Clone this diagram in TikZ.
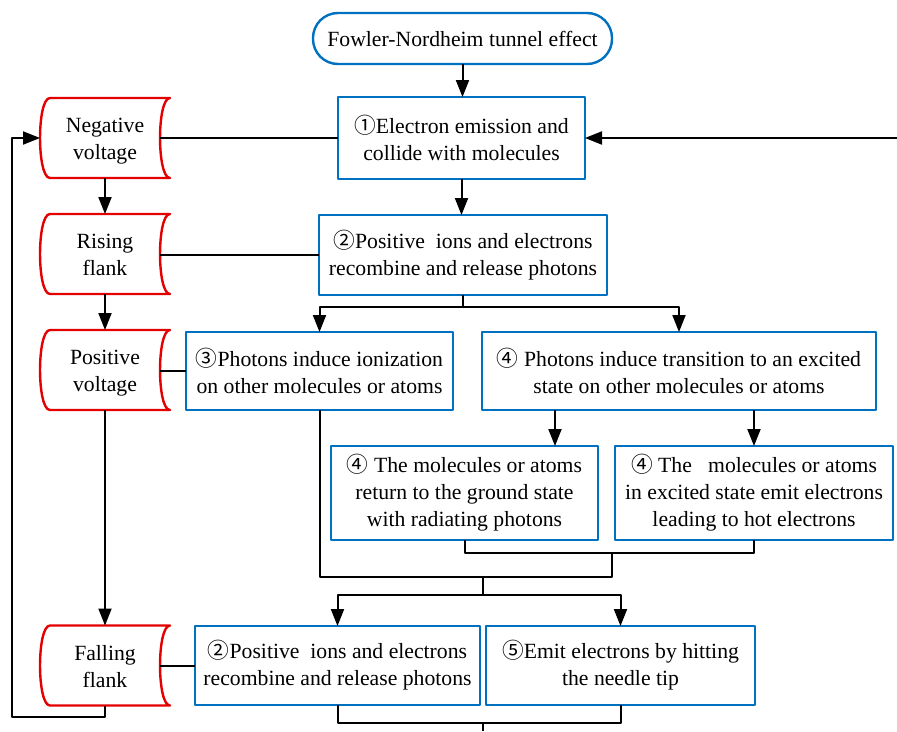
\documentclass[tikz,border=0pt]{standalone}
\usepackage{fontspec}
\setmainfont{Liberation Serif}
\newfontfamily\numfont{Noto Sans CJK SC}
\newcommand{\cnum}[1]{{\numfont #1}}
\usetikzlibrary{arrows.meta}
\definecolor{boxblue}{RGB}{0,112,192}
\definecolor{voltred}{RGB}{228,0,0}
\newcommand{\voltshape}[1]{\draw[voltred,line width=2.4pt] ([xshift=10pt]#1.north west) .. controls ([xshift=-3.3pt]#1.north west) and ([xshift=-3.3pt]#1.south west) .. ([xshift=10pt]#1.south west) -- (#1.south east) .. controls ([xshift=-13.3pt]#1.south east) and ([xshift=-13.3pt]#1.north east) .. (#1.north east) -- cycle;}

\begin{document}
\begin{tikzpicture}[x=1pt,y=-1pt,line join=round,>={Triangle[length=17pt,width=13pt]},line width=2pt]
	\tikzset{every node/.style={font=\fontsize{21.7}{27}\selectfont,align=center,inner sep=0pt,outer sep=0pt}}
	\tikzset{proc/.style={draw=boxblue,line width=2.4pt,minimum height=80pt}}
	\tikzset{volt/.style={minimum width=130pt,minimum height=80pt,text height=43pt,text depth=0pt}}
	\useasboundingbox (0,0) rectangle (897,731);
	\node[proc,rounded corners=25pt,minimum width=299pt,minimum height=51pt] (fn) at (462.5,38.5) {Fowler-Nordheim tunnel effect};
	\node[proc,minimum width=247pt,minimum height=82pt] (b1) at (461.5,138) {\cnum{①}Electron emission and\\collide with molecules};
	\node[proc,minimum width=288pt] (b2) at (463,255) {\cnum{②}Positive\ \ ions and electrons\\recombine and release photons};
	\node[proc,minimum width=267pt,minimum height=78pt] (b3) at (319.5,371) {\cnum{③}Photons induce ionization\\on other molecules or atoms};
	\node[proc,minimum width=394pt,minimum height=78pt] (b4) at (679,371) {\cnum{④} Photons induce transition to an excited\\state on other molecules or atoms};
	\node[proc,minimum width=267pt,minimum height=94pt] (b5) at (464.5,493) {\cnum{④} The molecules or atoms\\return to the ground state\\with radiating photons};
	\node[proc,minimum width=278pt,minimum height=94pt] (b6) at (754,493) {\cnum{④} The\ \ \ molecules or atoms\\in excited state emit electrons\\leading to hot electrons};
	\node[proc,minimum width=285pt,minimum height=79pt] (b7) at (337.5,665.5) {\cnum{②}Positive\ \ ions and electrons\\recombine and release photons};
	\node[proc,minimum width=269pt,minimum height=79pt] (b8) at (620.5,665.5) {\cnum{⑤}Emit electrons by hitting\\the needle tip};
	\node[volt] (neg) at (105,138) {Negative\\voltage};
	\node[volt] (rise) at (105,254) {Rising\\flank};
	\node[volt] (pos) at (105,370) {Positive\\voltage};
	\node[volt] (fall) at (105,665.5) {Falling\\flank};
	\foreach \v in {neg,rise,pos,fall} \voltshape{\v};
	\coordinate (rin) at (897,138);
	\coordinate (j1) at (612,553);
	\coordinate (j2) at (612,577);
	\coordinate (s2) at (483,577);
	\coordinate (j3) at (483,723);
	\coordinate (out) at (483,731);
	\coordinate (lp) at (12,717);
	\draw[->] (fn.south) -- (fn.south |- b1.north);
	\draw[->] (rin) -- (b1.east);
	\draw (b1.west) -- ([xshift=-10pt]neg.east);
	\draw[->] (neg) -- (rise);
	\draw[->] (rise) -- (pos);
	\draw[->] (pos) -- (fall);
	\draw[->] (b1.south) -- (b1.south |- b2.north);
	\draw (b2.west) -- ([xshift=-10pt]rise.east |- b2.west);
	\draw (b2.south) -- ++(0,12) coordinate (s1);
	\draw[->] (s1) -| (b3.north);
	\draw[->] (s1) -| (b4.north);
	\draw ([xshift=-10pt]pos.east |- b3.west) -- (b3.west);
	\draw[->] ([xshift=-124pt]b4.south) -- ([xshift=-124pt]b4.south |- b5.north);
	\draw[->] (b4.south -| b6.north) -- (b6.north);
	\draw (b5.south) |- (j1) -| (b6.south);
	\draw (b3.south) |- (j2) -- (j1);
	\draw (s2) -- ++(0,18) coordinate (s3);
	\draw[->] (s3) -| (b7.north);
	\draw[->] (s3) -| (b8.north);
	\draw ([xshift=-10pt]fall.east) -- (b7.west);
	\draw (b7.south) |- (j3) -| (b8.south);
	\draw (j3) -- (out);
	\draw[->] (fall.south) |- (lp) |- (neg.west);
\end{tikzpicture}
\end{document}
